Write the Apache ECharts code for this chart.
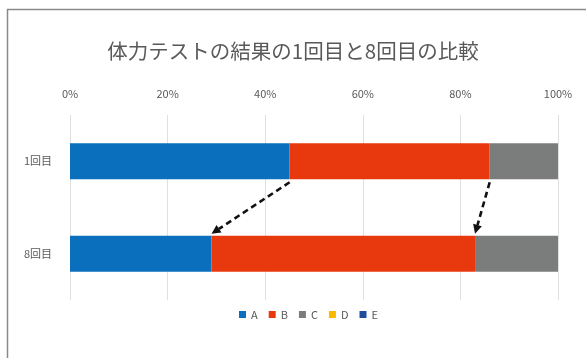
<!DOCTYPE html>
<html>
<head>
<meta charset="utf-8">
<script src="https://cdn.jsdelivr.net/npm/echarts@6/dist/echarts.min.js"></script>
<style>
  html, body { margin: 0; padding: 0; background: #fff; }
  #chart { width: 586px; height: 358px; }
</style>
</head>
<body>
<div id="chart"></div>
<script>
// 体力テストの結果（構成比, %）
const categories = ['1回目', '8回目'];
const seriesNames = ['A', 'B', 'C', 'D', 'E'];
const valuesA = [45, 29];
const valuesB = [41, 54];
const valuesC = [14, 17];
const valuesD = [0, 0];
const valuesE = [0, 0];
const tickValues = [0, 20, 40, 60, 80, 100];

const colors = ['#0a6fbd', '#e8380d', '#7b7d7d', '#fbb800', '#1f4e9e'];
const font = '"Noto Sans CJK JP", "Noto Sans", sans-serif';
const seriesValues = [valuesA, valuesB, valuesC, valuesD, valuesE];

// 区切り位置（A の終わり、A+B の終わり）の変化を矢印で示す
const arrowPairs = [
  [valuesA[0], valuesA[1], 0],
  [valuesA[0] + valuesB[0], valuesA[1] + valuesB[1], 0]
];

const BAR_W = 36;

const chart = echarts.init(document.getElementById('chart'), null, { renderer: 'canvas' });

const barSeries = seriesNames.map((name, i) => ({
  name,
  type: 'bar',
  stack: 'total',
  barWidth: BAR_W,
  itemStyle: { color: colors[i] },
  data: seriesValues[i]
}));

chart.setOption({
  animation: false,
  backgroundColor: '#fff',
  textStyle: { fontFamily: font },
  title: {
    text: '体力テストの結果の1回目と8回目の比較',
    left: 'center',
    top: 36,
    textStyle: { fontFamily: font, fontSize: 20.5, fontWeight: 'normal', color: '#595959' }
  },
  graphic: [{
    type: 'rect',
    shape: { x: 7.5, y: 9.5, width: 600, height: 400 },
    style: { fill: 'none', stroke: '#8a8a8a', lineWidth: 1.5 },
    silent: true,
    z: -1
  }],
  legend: {
    data: seriesNames,
    bottom: 33,
    left: 234,
    icon: 'rect',
    itemWidth: 7,
    itemHeight: 7,
    itemGap: 11,
    textStyle: { fontFamily: font, fontSize: 11, color: '#595959' }
  },
  grid: { left: 70, right: 28, top: 115, bottom: 58, containLabel: false },
  xAxis: {
    type: 'value',
    position: 'top',
    min: tickValues[0],
    max: tickValues[tickValues.length - 1],
    interval: tickValues[1] - tickValues[0],
    axisLine: { show: false },
    axisTick: { show: false },
    axisLabel: { formatter: '{value}%', fontSize: 11, color: '#595959', margin: 16 },
    splitLine: { lineStyle: { color: '#e0e0e0', width: 1 } }
  },
  yAxis: {
    type: 'category',
    data: categories,
    inverse: true,
    axisLine: { show: false },
    axisTick: { show: false },
    axisLabel: { fontSize: 11, color: '#595959', margin: 18 }
  },
  series: barSeries.concat([{
    name: 'arrows',
    type: 'custom',
    z: 10,
    encode: { x: [0, 1], y: 2 },
    data: arrowPairs,
    renderItem: function (params, api) {
      const from = api.coord([api.value(0), 0]);
      const to = api.coord([api.value(1), 1]);
      const x1 = from[0], y1 = from[1] + BAR_W / 2 + 3;
      const x2 = to[0], y2 = to[1] - BAR_W / 2 - 2;
      const ang = Math.atan2(y2 - y1, x2 - x1);
      const head = 9, half = 4.5;
      const bx = x2 - head * Math.cos(ang), by = y2 - head * Math.sin(ang);
      const px = -Math.sin(ang) * half, py = Math.cos(ang) * half;
      return {
        type: 'group',
        children: [{
          type: 'line',
          shape: { x1, y1, x2: bx, y2: by },
          style: { stroke: '#111', lineWidth: 2.6, lineDash: [6, 4] }
        }, {
          type: 'polygon',
          shape: { points: [[x2, y2], [bx + px, by + py], [bx - px, by - py]] },
          style: { fill: '#111' }
        }]
      };
    }
  }])
});
</script>
</body>
</html>
